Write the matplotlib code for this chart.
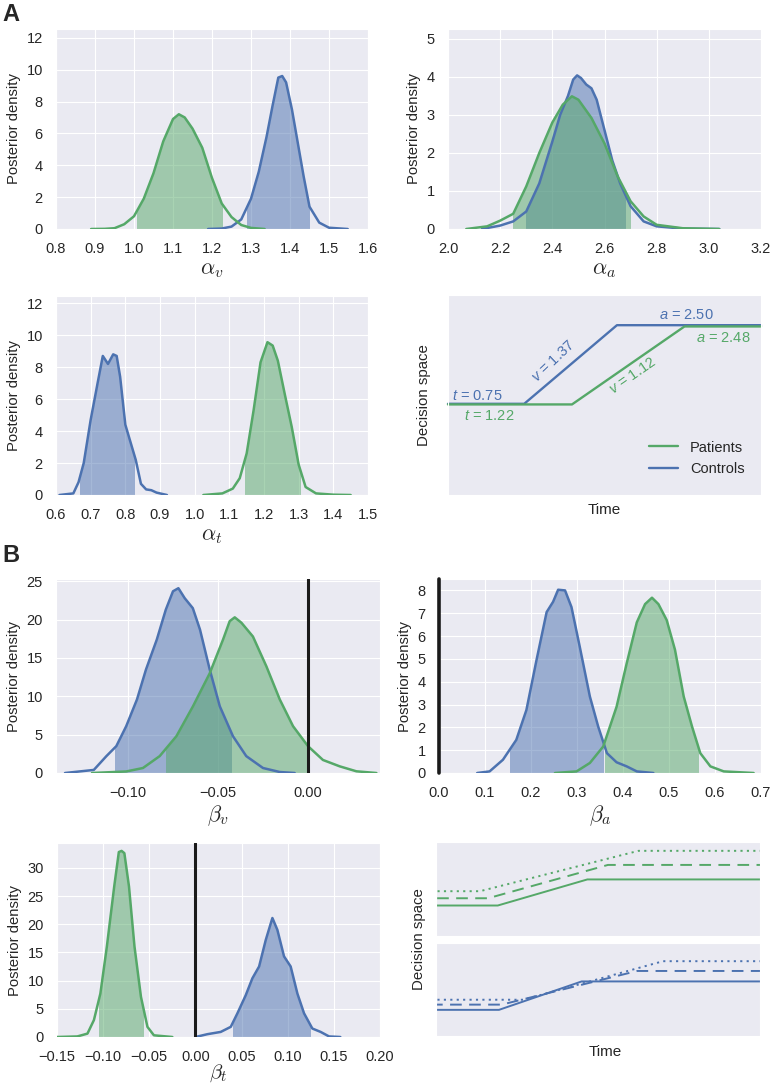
import numpy as np
import matplotlib.pyplot as plt
import seaborn as sns
from matplotlib.patches import Rectangle
from matplotlib.lines import Line2D

sns.set_style("darkgrid")
plt.rcParams['font.family'] = ['Liberation Sans', 'DejaVu Sans']
plt.rcParams['mathtext.fontset'] = 'custom'
plt.rcParams['mathtext.it'] = 'Liberation Sans:italic'
plt.rcParams['mathtext.rm'] = 'Liberation Sans'

PAT = "#55A868"   # patients
CON = "#4C72B0"   # controls

# ---- posterior densities ----
# alpha_v
av_pat_x = [0.89, 0.925, 0.95, 0.975, 1.0, 1.025, 1.05, 1.075, 1.1, 1.115, 1.13, 1.15, 1.175, 1.2, 1.225, 1.25, 1.275, 1.3, 1.335]
av_pat_y = [0, 0.01, 0.05, 0.3, 0.8, 1.9, 3.5, 5.5, 6.9, 7.2, 7.0, 6.3, 5.1, 3.2, 1.6, 0.75, 0.25, 0.07, 0]
av_con_x = [1.19, 1.225, 1.25, 1.275, 1.3, 1.32, 1.34, 1.355, 1.37, 1.38, 1.39, 1.405, 1.42, 1.435, 1.45, 1.475, 1.5, 1.548]
av_con_y = [0, 0.03, 0.15, 0.6, 1.9, 3.6, 5.8, 7.7, 9.5, 9.6, 9.2, 7.5, 5.4, 3.3, 1.4, 0.4, 0.08, 0]
av_hpd_pat = (1.008, 1.225)
av_hpd_con = (1.291, 1.449)

# alpha_a
aa_pat_x = [2.07, 2.15, 2.2, 2.25, 2.3, 2.35, 2.4, 2.44, 2.475, 2.5, 2.55, 2.6, 2.65, 2.7, 2.75, 2.8, 2.9, 3.04]
aa_pat_y = [0, 0.07, 0.22, 0.4, 1.12, 2.0, 2.8, 3.27, 3.49, 3.4, 2.92, 2.25, 1.39, 0.73, 0.33, 0.11, 0.02, 0]
aa_con_x = [2.13, 2.2, 2.25, 2.3, 2.35, 2.4, 2.43, 2.46, 2.48, 2.495, 2.51, 2.53, 2.55, 2.57, 2.6, 2.63, 2.66, 2.7, 2.75, 2.8, 2.9, 3.04]
aa_con_y = [0, 0.09, 0.2, 0.46, 1.2, 2.3, 3.0, 3.5, 3.93, 4.04, 3.97, 3.8, 3.7, 3.4, 2.6, 1.8, 1.2, 0.6, 0.2, 0.07, 0.01, 0]
aa_hpd_pat = (2.25, 2.696)
aa_hpd_con = (2.30, 2.68)

# alpha_t
at_con_x = [0.61, 0.65, 0.665, 0.68, 0.7, 0.72, 0.735, 0.75, 0.765, 0.775, 0.785, 0.8, 0.815, 0.83, 0.845, 0.86, 0.875, 0.89, 0.92]
at_con_y = [0, 0.1, 0.8, 2.0, 4.7, 7.0, 8.7, 8.2, 8.8, 8.7, 7.4, 4.4, 3.3, 2.2, 0.7, 0.35, 0.3, 0.15, 0]
at_pat_x = [1.025, 1.08, 1.11, 1.13, 1.15, 1.17, 1.19, 1.21, 1.225, 1.24, 1.26, 1.28, 1.3, 1.32, 1.35, 1.4, 1.45]
at_pat_y = [0, 0.1, 0.4, 1.05, 2.6, 5.3, 8.3, 9.56, 9.35, 8.4, 6.3, 4.26, 1.9, 0.5, 0.1, 0.02, 0]
at_hpd_con = (0.67, 0.825)
at_hpd_pat = (1.145, 1.305)

# beta_v
bv_con_x = [-0.135, -0.119, -0.112, -0.1065, -0.101, -0.095, -0.090, -0.084, -0.079, -0.075, -0.072, -0.0685, -0.064, -0.060, -0.0546, -0.049, -0.0417, -0.0343, -0.025, -0.0157, -0.0074]
bv_con_y = [0, 0.4, 2.2, 3.5, 6.1, 9.6, 13.5, 17.4, 21.3, 23.7, 24.1, 22.8, 21.5, 18.7, 13.5, 8.7, 4.8, 2.2, 0.65, 0.13, 0]
bv_pat_x = [-0.120, -0.101, -0.0917, -0.0824, -0.0731, -0.0639, -0.0546, -0.0472, -0.0435, -0.0407, -0.037, -0.0306, -0.0231, -0.0157, -0.0083, 0.0, 0.0083, 0.0176, 0.0269, 0.038]
bv_pat_y = [0, 0.2, 0.65, 2.2, 4.8, 8.7, 13.0, 17.4, 19.8, 20.3, 19.6, 17.8, 13.9, 9.6, 6.1, 3.5, 1.7, 0.87, 0.22, 0]
bv_hpd_con = (-0.107, -0.0426)
bv_hpd_pat = (-0.0787, 0.0)

# beta_a
ba_con_x = [0.083, 0.11, 0.139, 0.168, 0.19, 0.212, 0.234, 0.248, 0.259, 0.274, 0.288, 0.306, 0.328, 0.346, 0.365, 0.386, 0.408, 0.43, 0.466]
ba_con_y = [0, 0.07, 0.58, 1.45, 2.76, 4.95, 7.05, 7.5, 8.03, 8.0, 7.27, 5.53, 3.35, 2.04, 0.87, 0.47, 0.29, 0.07, 0]
ba_pat_x = [0.252, 0.299, 0.328, 0.357, 0.386, 0.408, 0.43, 0.448, 0.463, 0.477, 0.495, 0.513, 0.532, 0.55, 0.568, 0.59, 0.619, 0.684]
ba_pat_y = [0, 0.07, 0.44, 1.16, 2.9, 4.8, 6.6, 7.4, 7.68, 7.4, 6.7, 5.4, 3.35, 2.04, 0.87, 0.29, 0.07, 0]
ba_hpd_con = (0.155, 0.357)
ba_hpd_pat = (0.361, 0.562)

# beta_t
bt_pat_x = [-0.15, -0.128, -0.117, -0.11, -0.103, -0.096, -0.088, -0.083, -0.080, -0.077, -0.072, -0.066, -0.059, -0.052, -0.045, -0.025]
bt_pat_y = [0, 0.1, 0.6, 3.0, 7.7, 16.0, 26.7, 32.8, 33.0, 32.6, 26.7, 16.0, 7.1, 1.8, 0.3, 0]
bt_con_x = [0.0, 0.013, 0.0274, 0.0383, 0.0455, 0.0545, 0.0617, 0.069, 0.0762, 0.0834, 0.0888, 0.096, 0.1032, 0.1105, 0.1177, 0.1267, 0.1357, 0.1448, 0.157]
bt_con_y = [0, 0.5, 0.9, 1.8, 4.2, 7.4, 10.4, 12.5, 17.2, 21.1, 19.0, 14.3, 12.5, 7.7, 4.2, 1.5, 0.9, 0.1, 0]
bt_hpd_pat = (-0.104, -0.0563)
bt_hpd_con = (0.0412, 0.1242)

# ---- group-level parameters for the decision-space sketches ----
groups = ["Patients", "Controls"]
grp_t = [1.22, 0.75]
grp_v = [1.12, 1.37]
grp_a = [2.48, 2.50]
# covariate levels (solid, dashed, dotted)
pat_lvl_t = [1.22, 1.10, 1.00]
pat_lvl_v = [1.12, 1.07, 0.98]
pat_lvl_a = [2.48, 3.17, 3.84]
con_lvl_t = [0.75, 0.78, 1.02]
con_lvl_v = [1.37, 0.99, 1.10]
con_lvl_a = [2.50, 2.96, 3.39]

W, H = 771, 1088
fig = plt.figure(figsize=(W / 100, H / 100), dpi=100)


def rect(x0, y0, x1, y1):
    return [x0 / W, 1 - y1 / H, (x1 - x0) / W, (y1 - y0) / H]


def density(ax, x, y, hpd, color):
    x = np.asarray(x)
    y = np.asarray(y)
    fill = ax.fill_between(x, 0, y, color=color, alpha=0.5, lw=0, zorder=2)
    clip = Rectangle((hpd[0], 0), hpd[1] - hpd[0], 1000, transform=ax.transData)
    fill.set_clip_path(clip)
    ax.plot(x, y, color=color, lw=1.8, zorder=3, solid_joinstyle='round')


def post_axes(r, xlim, xticks, ylim, yticks, xlabel, fmt, lpad=2):
    ax = fig.add_axes(r)
    ax.set_xlim(xlim)
    ax.set_ylim(ylim)
    ax.set_xticks(xticks)
    ax.set_xticklabels([fmt.format(v).replace("-", "\u2212") for v in xticks])
    ax.set_yticks(yticks)
    ax.tick_params(axis='x', labelsize=10.5, pad=6)
    ax.tick_params(axis='y', labelsize=10.5, pad=6)
    ax.set_ylabel("Posterior density", fontsize=10.7)
    ax.set_xlabel(xlabel, fontsize=16, math_fontfamily='cm', labelpad=lpad)
    return ax


def trajectory(t, v, a, t_end):
    start = a / 2
    return [0, t, t + (a - start) / v, t_end], [start, start, a, a]


# A: alpha_v
ax = post_axes(rect(56, 29, 368, 229), (0.8, 1.6), np.arange(0.8, 1.61, 0.1),
               (0, 12.55), range(0, 13, 2), r"$\alpha_v$", "{:.1f}")
density(ax, av_con_x, av_con_y, av_hpd_con, CON)
density(ax, av_pat_x, av_pat_y, av_hpd_pat, PAT)

# A: alpha_a
ax = post_axes(rect(448, 29, 761, 229), (2.0, 3.2), np.arange(2.0, 3.21, 0.2),
               (0, 5.26), range(0, 6), r"$\alpha_a$", "{:.1f}")
density(ax, aa_con_x, aa_con_y, aa_hpd_con, CON)
density(ax, aa_pat_x, aa_pat_y, aa_hpd_pat, PAT)

# A: alpha_t
ax = post_axes(rect(56, 296, 368, 495), (0.6, 1.5), np.arange(0.6, 1.51, 0.1),
               (0, 12.45), range(0, 13, 2), r"$\alpha_t$", "{:.1f}")
density(ax, at_con_x, at_con_y, at_hpd_con, CON)
density(ax, at_pat_x, at_pat_y, at_hpd_pat, PAT)

# A: decision space
ax = fig.add_axes(rect(448, 295, 761, 495))
ax.set_xlim(0, 3.08)
ax.set_ylim(-0.2, 2.98)
ax.set_xticks([])
ax.set_yticks([])
t_end = 3.08
for i in [1, 0]:
    col = PAT if i == 0 else CON
    xs, ys = trajectory(grp_t[i], grp_v[i], grp_a[i], t_end)
    ax.plot(xs, ys, color=col, lw=1.7, clip_on=False)
ax.text(0.04, 1.27, "$t$ = %.2f" % grp_t[1], color=CON, fontsize=10.5, va='bottom')
ax.text(0.16, 1.17, "$t$ = %.2f" % grp_t[0], color=PAT, fontsize=10.5, va='top')
ax.text(1.04, 1.93, "$v$ = %.2f" % grp_v[1], color=CON, fontsize=10.5, ha='center', va='center',
        rotation=np.degrees(np.arctan(grp_v[1])) + 3, transform_rotates_text=True, rotation_mode='anchor')
ax.text(1.82, 1.69, "$v$ = %.2f" % grp_v[0], color=PAT, fontsize=10.5, ha='center', va='center',
        rotation=np.degrees(np.arctan(grp_v[0])), transform_rotates_text=True, rotation_mode='anchor')
ax.text(2.35, 2.66, "$a$ = %.2f" % grp_a[1], color=CON, fontsize=10.5, ha='center', va='center')
ax.text(2.71, 2.29, "$a$ = %.2f" % grp_a[0], color=PAT, fontsize=10.5, ha='center', va='center')
handles = [Line2D([], [], color=PAT, lw=1.7), Line2D([], [], color=CON, lw=1.7)]
ax.legend(handles, groups, loc='lower right', frameon=False, fontsize=10.5, handlelength=2.0,
          bbox_to_anchor=(0.99, 0.03))
ax.set_ylabel("Decision space", fontsize=10.8)
ax.yaxis.set_label_coords(-0.055, 0.5)
ax.set_xlabel("Time", fontsize=11)
ax.xaxis.set_label_coords(0.5, -0.04)

# B: beta_v
ax = post_axes(rect(56, 579, 380, 773), (-0.14, 0.04), [-0.10, -0.05, 0.00],
               (0, 25.3), range(0, 26, 5), r"$\beta_v$", "{:.2f}")
density(ax, bv_con_x, bv_con_y, bv_hpd_con, CON)
density(ax, bv_pat_x, bv_pat_y, bv_hpd_pat, PAT)
ax.axvline(0, color='#1a1a1a', lw=2.2, zorder=4)

# B: beta_a
ax = post_axes(rect(439, 579, 761, 773), (0, 0.7), np.arange(0, 0.71, 0.1),
               (0, 8.5), range(0, 9), r"$\beta_a$", "{:.1f}")
density(ax, ba_con_x, ba_con_y, ba_hpd_con, CON)
density(ax, ba_pat_x, ba_pat_y, ba_hpd_pat, PAT)
ax.axvline(0, color='#1a1a1a', lw=2.6, zorder=4, clip_on=False)

# B: beta_t
ax = post_axes(rect(57, 843, 380, 1037), (-0.15, 0.20), np.arange(-0.15, 0.201, 0.05),
               (0, 34.4), range(0, 31, 5), r"$\beta_t$", "{:.2f}", lpad=-1)
density(ax, bt_pat_x, bt_pat_y, bt_hpd_pat, PAT)
density(ax, bt_con_x, bt_con_y, bt_hpd_con, CON)
ax.axvline(0, color='#1a1a1a', lw=2.2, zorder=4)
ax.xaxis.label.set_fontsize(15)

# B: decision space for covariate levels
styles = ['-', (0, (6, 3.8)), (0, (1.1, 2.2))]
mini = [
    (rect(436, 842, 760, 936), PAT, pat_lvl_t, pat_lvl_v, pat_lvl_a, (0.457, 4.46), (-0.21, 4.26)),
    (rect(436, 943, 760, 1036), CON, con_lvl_t, con_lvl_v, con_lvl_a, (0.055, 3.63), (0.1, 4.19)),
]
for r, col, ts, vs, as_, xl, yl in mini:
    ax = fig.add_axes(r)
    ax.set_xlim(xl)
    ax.set_ylim(yl)
    ax.set_xticks([])
    ax.set_yticks([])
    for t, v, a, ls in zip(ts, vs, as_, styles):
        xs, ys = trajectory(t, v, a, xl[1] + 0.1)
        ax.plot(xs, ys, color=col, lw=1.4, linestyle=ls)
fig.text(426 / W, 1 - 939 / H, "Decision space", rotation=90, ha='right', va='center',
         fontsize=10.8, color='.15')
fig.text(605 / W, 1 - 1052 / H, "Time", ha='center', va='center', fontsize=11, color='.15')

# panel letters
fig.text(2 / W, 1 - 3 / H, "A", fontsize=17, fontweight='bold', va='top', ha='left')
fig.text(2 / W, 1 - 544 / H, "B", fontsize=17, fontweight='bold', va='top', ha='left')

fig.savefig("out.png", dpi=100)
